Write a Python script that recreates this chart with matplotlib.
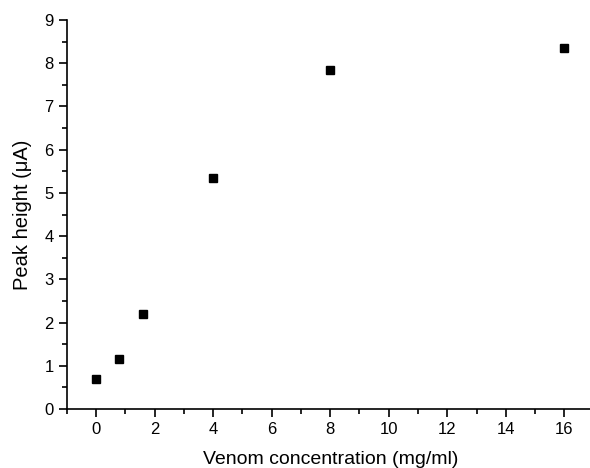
import matplotlib
matplotlib.use('Agg')
import matplotlib.pyplot as plt
from matplotlib.ticker import MultipleLocator

plt.rcParams['font.family'] = ['Liberation Sans', 'DejaVu Sans']

conc = [0, 0.8, 1.6, 4, 8, 16]
peak = [0.7, 1.15, 2.2, 5.35, 7.85, 8.35]

fig = plt.figure(figsize=(5.9, 4.68), dpi=100)
ax = fig.add_axes([66.7 / 590, 59 / 468, 527 / 590, 389 / 468])

ax.plot(conc, peak, 's', color='black', markersize=6, clip_on=False)

ax.set_xlim(-1, 17)
ax.set_ylim(0, 9)
ax.xaxis.set_major_locator(MultipleLocator(2))
ax.xaxis.set_minor_locator(MultipleLocator(1))
ax.yaxis.set_major_locator(MultipleLocator(1))
ax.yaxis.set_minor_locator(MultipleLocator(0.5))

ax.spines['top'].set_visible(False)
ax.spines['right'].set_visible(False)
for s in ['left', 'bottom']:
    ax.spines[s].set_linewidth(1.2)
ax.tick_params(which='major', direction='out', length=6, width=1.2, labelsize=12)
ax.tick_params(which='minor', direction='out', length=3.5, width=1.2)

ax.set_xlabel('Venom concentration (mg/ml)', fontsize=14, labelpad=10)
ax.set_ylabel('Peak height (\u03bcA)', fontsize=14.5, labelpad=9)

fig.savefig('out.png', dpi=100)
